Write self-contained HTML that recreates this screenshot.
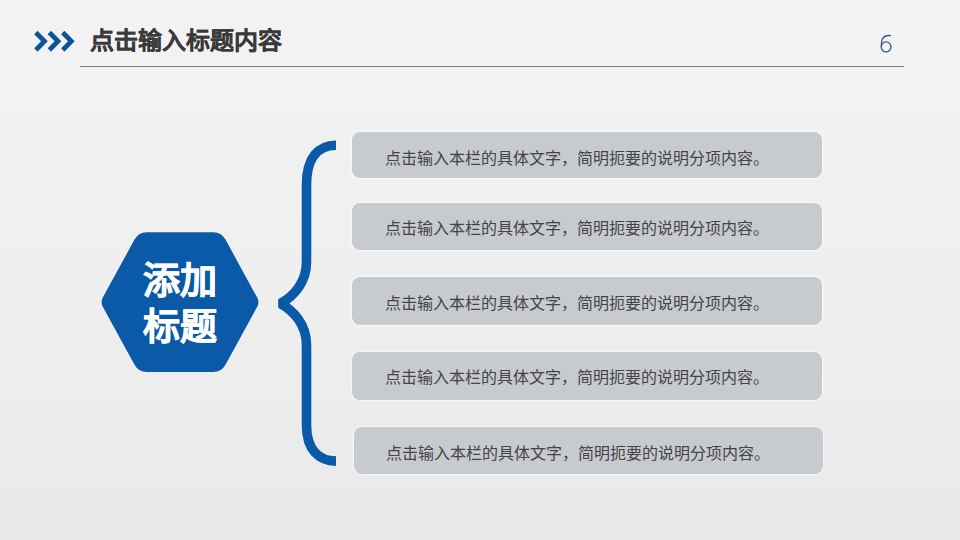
<!DOCTYPE html>
<html lang="zh-CN">
<head>
<meta charset="utf-8">
<style>
html,body{margin:0;padding:0;}
body{width:960px;height:540px;overflow:hidden;position:relative;
  font-family:"Liberation Sans",sans-serif;
  background:linear-gradient(180deg,#f3f3f3 0%,#eeeeee 60%,#e9e9e9 100%);}
.abs{position:absolute;}
.title{left:90px;top:27px;font-size:24px;line-height:28px;font-weight:bold;color:#3a3a3a;white-space:nowrap;-webkit-text-stroke:0.2px #3a3a3a;}
.rule{left:80px;top:65.5px;width:824px;height:1px;background:#7a7a7a;}
.box{left:352px;width:470px;height:46px;border-radius:8px;background:#c7cacf;
  box-shadow:0 0 2px 1px rgba(255,255,255,0.7);}
.box span{position:absolute;left:33px;top:4px;line-height:46px;font-size:16px;color:#444444;white-space:nowrap;}
.hex-text{left:101px;top:259px;width:158px;text-align:center;color:#fff;font-weight:bold;font-size:37px;line-height:45.5px;-webkit-text-stroke:0.5px #fff;}
</style>
</head>
<body>
<svg class="abs" style="left:0;top:0" width="960" height="540" viewBox="0 0 960 540">
  <g fill="#0d5399">
    <polygon points="37.5,30.8 47.8,41.3 37.5,51.7 34.2,48.3 41.1,41.3 34.2,34.2"/>
    <polygon points="51,30.8 61.3,41.3 51,51.7 47.7,48.3 54.6,41.3 47.7,34.2"/>
    <polygon points="64.4,30.8 74.7,41.3 64.4,51.7 61.1,48.3 68,41.3 61.1,34.2"/>
  </g>
  <g fill="none" stroke="#34598c" stroke-width="1.3">
    <ellipse cx="886.1" cy="46.95" rx="4.85" ry="5"/>
    <path d="M891,35.7 C887,35.1 883.6,36.2 882.2,39.6 C881.3,41.8 881.25,44.5 881.25,47"/>
  </g>
  <path d="M102.92,297.35 L134.52,239.58 A14.00,14.00 0 0 1 146.80,232.30 L213.20,232.30 A14.00,14.00 0 0 1 225.48,239.58 L257.08,297.35 A10.00,10.00 0 0 1 257.08,306.95 L225.48,364.72 A14.00,14.00 0 0 1 213.20,372.00 L146.80,372.00 A14.00,14.00 0 0 1 134.52,364.72 L102.92,306.95 A10.00,10.00 0 0 1 102.92,297.35 Z" fill="#0b5aa8"/>
  <path d="M336,145.2 C318,145.2 306.5,158 306.5,185 L306.5,262 C306.5,282 294,296 280.5,303.5 C294,311 306.5,325 306.5,345 L306.5,425 C306.5,450 319,461.1 336,461.1" fill="none" stroke="#0b5aa8" stroke-width="9.6" stroke-linejoin="bevel"/>
</svg>
<div class="abs title">点击输入标题内容</div>
<div class="abs rule"></div>
<div class="abs hex-text">添加<br>标题</div>
<div class="abs box" style="top:132px;left:352px;width:470px;height:45.5px"><span style="top:4px;left:33px">点击输入本栏的具体文字，简明扼要的说明分项内容。</span></div>
<div class="abs box" style="top:203px;left:352px;width:470px;height:47px"><span style="top:3px;left:33px">点击输入本栏的具体文字，简明扼要的说明分项内容。</span></div>
<div class="abs box" style="top:277px;left:352px;width:470px;height:48px"><span style="top:4px;left:33px">点击输入本栏的具体文字，简明扼要的说明分项内容。</span></div>
<div class="abs box" style="top:352px;left:352px;width:470px;height:48px"><span style="top:3px;left:33px">点击输入本栏的具体文字，简明扼要的说明分项内容。</span></div>
<div class="abs box" style="top:427px;left:354px;width:469px;height:47px"><span style="top:4px;left:32px">点击输入本栏的具体文字，简明扼要的说明分项内容。</span></div>
</body>
</html>
